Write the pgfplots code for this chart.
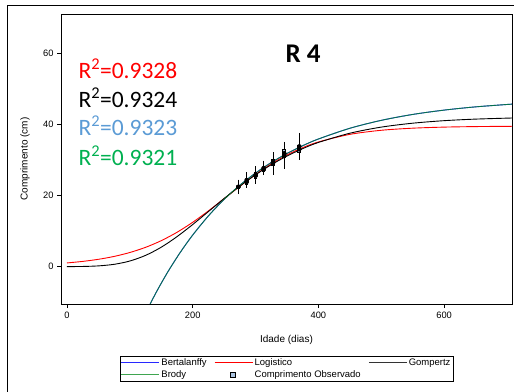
\documentclass[border=0pt]{standalone}
\usepackage{fontspec}
\setmainfont{Liberation Sans}
\newfontfamily\carlito{Carlito}
\usepackage{pgfplots}
\pgfplotsset{compat=1.18}
\usepackage{pgfplotstable}
\definecolor{bblue}{RGB}{40,40,255}
\definecolor{bgreen}{RGB}{0,125,45}
\definecolor{lgreen}{RGB}{30,150,50}
\definecolor{boxfill}{RGB}{170,195,225}
\definecolor{rblue}{RGB}{91,155,213}
\definecolor{rgreen}{RGB}{0,176,80}

\pgfplotstableread{
x y
120 -14.93
140 -7.87
160 -1.61
180 3.94
200 8.87
225 14.26
250 18.89
275 22.88
300 26.30
325 29.25
350 31.79
375 33.98
400 35.87
450 38.88
500 41.11
550 42.77
600 43.99
650 44.90
708 45.67
}\brody

\pgfplotstableread{
x y
120 -14.93
140 -7.87
160 -1.61
180 3.94
200 8.87
225 14.26
250 18.89
275 22.88
300 26.30
325 29.25
350 31.79
375 33.98
400 35.87
450 38.88
500 41.11
550 42.77
600 43.99
650 44.90
708 45.67
}\berta

\pgfplotstableread{
x y
0 1.04
25 1.47
50 2.06
75 2.87
100 3.97
125 5.42
150 7.30
175 9.65
200 12.46
225 15.66
250 19.10
275 22.58
300 25.89
325 28.86
350 31.38
375 33.43
400 35.04
450 37.17
500 38.32
550 38.91
600 39.21
650 39.36
708 39.44
}\logis

\pgfplotstableread{
x y
0 0.01
25 0.05
50 0.21
75 0.65
100 1.58
125 3.16
150 5.46
175 8.42
200 11.83
225 15.48
250 19.14
275 22.62
300 25.81
325 28.64
350 31.08
375 33.16
400 34.90
450 37.49
500 39.21
550 40.31
600 41.02
650 41.46
708 41.77
}\gomp

\pgfplotstableread{
x bc bh bi ec eh
272.6 22.40 0.56 0.30 22.43 1.55
285.9 23.86 0.85 0.55 24.36 1.64
300.2 25.60 0.99 0.69 25.75 1.97
312.9 27.30 0.70 0.40 27.75 1.55
327.7 29.30 0.99 0.69 28.98 2.68
345.7 31.80 1.27 0.97 31.27 3.30
369.6 33.00 1.10 0.80 33.80 3.30
}\obs

\begin{document}
\begin{tikzpicture}[x=1pt,y=1pt]
\begin{axis}[
  at={(61pt,87pt)}, anchor=south west, scale only axis,
  width=451pt, height=290pt,
  xmin=-9.5, xmax=708, ymin=-10.5, ymax=71,
  xtick={0,200,400,600}, ytick={0,20,40,60},
  tick pos=left, tick align=outside, major tick length=4pt,
  tick style={black, line width=0.6pt},
  /pgf/number format/assume math mode=true,
  ticklabel style={font=\fontsize{9.3}{10}\selectfont},
  xlabel={Idade (dias)}, ylabel={Comprimento (cm)},
  label style={font=\fontsize{10}{12}\selectfont},
  xlabel style={at={(axis description cs:0.5,-0.124)}, anchor=center},
  ylabel style={at={(axis description cs:-0.08,0.5)}, anchor=center},
  axis line style={line width=0.8pt},
  legend columns=3,
  legend cell align=left,
  legend style={at={(axis description cs:0.501,-0.224)}, anchor=center,
    font=\fontsize{9.5}{10}\selectfont, line width=0.8pt,
    inner sep=1pt, row sep=-1pt,
    /tikz/every even column/.append style={column sep=6pt}},
]
\addplot[color=bblue, line width=0.9pt, smooth,
  legend image code/.code={\node[inner sep=0pt, anchor=west, text=bblue] at (0pt,0pt) {\rule[-0.35pt]{38pt}{0.7pt}};}] table[x=x,y=y] {\berta};
\addlegendentry{Bertalanffy}
\addplot[color=red, line width=0.9pt, smooth,
  legend image code/.code={\node[inner sep=0pt, anchor=west, text=red] at (0pt,0pt) {\rule[-0.35pt]{38pt}{0.7pt}};}] table[x=x,y=y] {\logis};
\addlegendentry{Logistico}
\addplot[color=black, line width=0.9pt, smooth,
  legend image code/.code={\node[inner sep=0pt, anchor=west, text=black!80] at (0pt,0pt) {\rule[-0.35pt]{38pt}{0.7pt}};}] table[x=x,y=y] {\gomp};
\addlegendentry{Gompertz}
\addplot[color=bgreen, line width=0.9pt, smooth, opacity=0.85,
  legend image code/.code={\node[inner sep=0pt, anchor=west, text=lgreen] at (0pt,0pt) {\rule[-0.35pt]{38pt}{0.7pt}};}] table[x=x,y=y] {\brody};
\addlegendentry{Brody}
\addlegendimage{legend image code/.code={\draw[fill=boxfill, draw=black, line width=0.7pt] (16.5pt,-2.2pt) rectangle (21.5pt,2.8pt);}}
\addlegendentry{Comprimento Observado}

\addplot[black, only marks, mark=none, forget plot,
  error bars/.cd, y dir=both, y explicit, error mark=-,
  error mark options={black, mark size=1.8pt, line width=0.6pt},
  error bar style={black, line width=0.6pt}]
  table[x=x, y=ec, y error=eh] {\obs};
\addplot[black, only marks, mark=none, forget plot,
  error bars/.cd, y dir=both, y explicit, error mark=none,
  error bar style={black, line width=3.6pt}]
  table[x=x, y=bc, y error=bh] {\obs};
\addplot[black, only marks, mark=none, forget plot,
  error bars/.cd, y dir=both, y explicit, error mark=none,
  error bar style={boxfill, line width=2.2pt}]
  table[x=x, y=bc, y error=bi] {\obs};
\end{axis}

\node[anchor=base, font=\carlito\fontsize{27}{30}\selectfont\bfseries] at (303,328.3) {R 4};
\node[anchor=base west, inner sep=0pt, text=red, font=\carlito\fontsize{23.5}{26}\selectfont] at (78.3,312.7) {R\textsuperscript{2}=0.9328};
\node[anchor=base west, inner sep=0pt, text=black, font=\carlito\fontsize{23.5}{26}\selectfont] at (78.3,283.7) {R\textsuperscript{2}=0.9324};
\node[anchor=base west, inner sep=0pt, text=rblue, font=\carlito\fontsize{23.5}{26}\selectfont] at (78.3,255.3) {R\textsuperscript{2}=0.9323};
\node[anchor=base west, inner sep=0pt, text=rgreen, font=\carlito\fontsize{23.5}{26}\selectfont] at (78.3,225.3) {R\textsuperscript{2}=0.9321};

\draw[line width=0.9pt] (7.3,-20) -- (7.3,385.3) -- (540,385.3);
\pgfresetboundingbox
\path[use as bounding box] (0,0) rectangle (514,391);
\end{tikzpicture}
\end{document}
